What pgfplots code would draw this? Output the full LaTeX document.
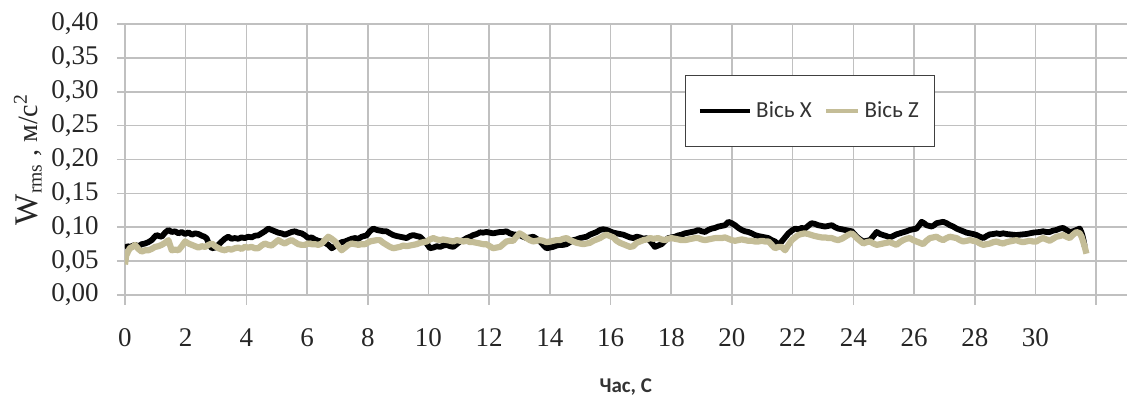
\documentclass[border=0pt]{standalone}
\usepackage{pgfplots}
\usepackage{pgfplotstable}
\pgfplotsset{compat=1.18}
\usepackage{fontspec}
\setmainfont{Liberation Serif}
\newfontfamily\carlito{Carlito}
\definecolor{tanline}{HTML}{C4BD97}
\definecolor{gridc}{HTML}{C0C0C0}

\pgfplotstableread{
t y
0 0.069
0.08 0.072
0.16 0.071
0.33 0.074
0.45 0.072
0.55 0.075
0.66 0.076
0.77 0.078
0.88 0.081
0.96 0.085
1.04 0.0885
1.12 0.087
1.21 0.086
1.32 0.092
1.43 0.096
1.54 0.093
1.65 0.094
1.76 0.091
1.87 0.093
1.98 0.090
2.09 0.0925
2.2 0.089
2.31 0.091
2.42 0.090
2.53 0.0875
2.62 0.086
2.69 0.0836
2.78 0.074
2.86 0.069
2.97 0.070
3.08 0.074
3.19 0.079
3.29 0.083
3.4 0.086
3.51 0.083
3.62 0.084
3.73 0.083
3.84 0.085
3.95 0.084
4.06 0.086
4.17 0.085
4.28 0.0875
4.39 0.088
4.5 0.091
4.61 0.094
4.72 0.098
4.83 0.096
4.94 0.094
5.05 0.092
5.16 0.091
5.27 0.089
5.38 0.091
5.49 0.093
5.6 0.094
5.71 0.092
5.82 0.091
5.93 0.088
6.04 0.084
6.15 0.085
6.26 0.082
6.37 0.080
6.48 0.079
6.59 0.077
6.7 0.074
6.81 0.069
6.92 0.072
7.03 0.075
7.14 0.078
7.25 0.079
7.36 0.081
7.47 0.083
7.58 0.084
7.69 0.083
7.8 0.086
7.96 0.088
8.07 0.094
8.18 0.098
8.3 0.096
8.4 0.095
8.52 0.094
8.62 0.094
8.73 0.091
8.84 0.0885
8.95 0.087
9.06 0.086
9.17 0.085
9.28 0.084
9.39 0.087
9.5 0.0885
9.61 0.087
9.72 0.086
9.83 0.081
9.94 0.076
10.05 0.069
10.16 0.070
10.27 0.072
10.38 0.071
10.49 0.073
10.6 0.074
10.71 0.072
10.82 0.071
10.93 0.075
11.04 0.079
11.15 0.081
11.26 0.084
11.37 0.086
11.48 0.0885
11.59 0.090
11.7 0.0925
11.8 0.092
11.91 0.093
12.02 0.092
12.13 0.091
12.24 0.092
12.36 0.093
12.46 0.093
12.57 0.094
12.68 0.091
12.79 0.0895
12.9 0.089
13.0 0.0885
13.12 0.086
13.23 0.084
13.34 0.085
13.45 0.086
13.56 0.083
13.67 0.079
13.78 0.074
13.89 0.069
14.0 0.070
14.11 0.071
14.22 0.073
14.33 0.074
14.44 0.074
14.55 0.075
14.66 0.078
14.77 0.081
14.88 0.082
14.99 0.084
15.1 0.085
15.21 0.086
15.32 0.089
15.43 0.091
15.54 0.093
15.65 0.096
15.76 0.097
15.87 0.096
15.98 0.094
16.09 0.092
16.2 0.091
16.31 0.090
16.42 0.089
16.53 0.087
16.64 0.085
16.75 0.084
16.86 0.086
16.97 0.085
17.08 0.083
17.19 0.084
17.3 0.080
17.41 0.074
17.46 0.071
17.57 0.073
17.68 0.075
17.79 0.080
17.9 0.084
18.01 0.085
18.12 0.086
18.23 0.088
18.34 0.089
18.45 0.091
18.56 0.092
18.67 0.093
18.78 0.094
18.89 0.096
19.0 0.094
19.11 0.093
19.22 0.096
19.33 0.098
19.44 0.099
19.55 0.101
19.66 0.102
19.77 0.103
19.88 0.108
19.99 0.106
20.1 0.103
20.21 0.099
20.32 0.096
20.43 0.094
20.54 0.093
20.65 0.091
20.76 0.0885
20.87 0.087
20.98 0.086
21.09 0.085
21.2 0.084
21.31 0.081
21.42 0.079
21.53 0.074
21.64 0.079
21.75 0.085
21.86 0.091
21.97 0.095
22.08 0.098
22.19 0.097
22.3 0.099
22.4 0.098
22.51 0.102
22.62 0.106
22.73 0.105
22.84 0.103
22.95 0.102
23.07 0.101
23.18 0.102
23.29 0.103
23.4 0.100
23.5 0.098
23.62 0.097
23.73 0.096
23.84 0.095
23.95 0.094
24.05 0.089
24.11 0.086
24.22 0.082
24.33 0.079
24.44 0.080
24.55 0.081
24.66 0.087
24.77 0.093
24.88 0.090
24.98 0.0885
25.09 0.087
25.2 0.085
25.31 0.087
25.42 0.0895
25.53 0.091
25.64 0.0925
25.75 0.094
25.86 0.096
25.97 0.097
26.08 0.098
26.17 0.103
26.25 0.108
26.33 0.106
26.41 0.103
26.5 0.102
26.58 0.101
26.66 0.103
26.74 0.106
26.85 0.107
26.96 0.108
27.07 0.106
27.18 0.103
27.29 0.101
27.4 0.098
27.51 0.096
27.62 0.094
27.73 0.092
27.84 0.091
27.95 0.090
28.06 0.0885
28.17 0.086
28.28 0.084
28.39 0.087
28.5 0.0895
28.61 0.090
28.72 0.091
28.83 0.090
28.94 0.091
29.05 0.090
29.15 0.0895
29.26 0.089
29.37 0.0885
29.48 0.089
29.59 0.0895
29.7 0.090
29.81 0.091
29.92 0.092
30.03 0.0925
30.14 0.093
30.25 0.094
30.36 0.093
30.47 0.093
30.58 0.095
30.69 0.096
30.8 0.098
30.91 0.099
31.02 0.096
31.13 0.093
31.24 0.094
31.35 0.096
31.46 0.098
31.52 0.092
31.57 0.084
31.62 0.072
}\seriesX

\pgfplotstableread{
t y
0 0.045
0.04 0.058
0.1 0.064
0.16 0.069
0.25 0.071
0.33 0.074
0.44 0.068
0.55 0.064
0.66 0.066
0.77 0.066
0.88 0.068
0.99 0.071
1.1 0.072
1.21 0.074
1.32 0.077
1.43 0.081
1.54 0.066
1.65 0.067
1.76 0.066
1.87 0.072
1.98 0.079
2.09 0.076
2.2 0.074
2.31 0.072
2.42 0.070
2.53 0.072
2.64 0.071
2.75 0.074
2.86 0.076
2.97 0.072
3.08 0.069
3.19 0.067
3.29 0.066
3.4 0.068
3.51 0.067
3.62 0.069
3.73 0.070
3.84 0.068
3.95 0.071
4.06 0.070
4.17 0.071
4.28 0.069
4.39 0.069
4.5 0.073
4.61 0.076
4.72 0.074
4.83 0.073
4.94 0.077
5.05 0.081
5.16 0.078
5.27 0.076
5.38 0.079
5.49 0.081
5.6 0.078
5.71 0.075
5.82 0.074
5.93 0.074
6.04 0.076
6.15 0.075
6.26 0.075
6.37 0.074
6.48 0.076
6.59 0.081
6.7 0.086
6.81 0.083
6.92 0.079
7.03 0.072
7.14 0.066
7.25 0.070
7.36 0.074
7.47 0.076
7.58 0.075
7.69 0.074
7.8 0.075
7.91 0.075
8.07 0.079
8.18 0.080
8.3 0.081
8.4 0.081
8.51 0.077
8.62 0.074
8.73 0.071
8.84 0.069
8.95 0.070
9.06 0.071
9.17 0.073
9.28 0.072
9.39 0.073
9.5 0.074
9.61 0.075
9.72 0.077
9.83 0.078
9.94 0.079
10.05 0.082
10.16 0.084
10.27 0.082
10.38 0.081
10.49 0.082
10.6 0.081
10.71 0.080
10.82 0.079
10.93 0.081
11.04 0.080
11.15 0.079
11.26 0.080
11.37 0.078
11.48 0.078
11.59 0.077
11.7 0.076
11.8 0.075
11.91 0.075
12.02 0.072
12.13 0.069
12.24 0.070
12.36 0.071
12.46 0.075
12.57 0.079
12.68 0.080
12.79 0.080
12.9 0.086
13.0 0.091
13.12 0.088
13.23 0.084
13.34 0.081
13.45 0.079
13.56 0.080
13.67 0.081
13.78 0.080
13.89 0.078
14.0 0.079
14.11 0.080
14.22 0.081
14.33 0.081
14.44 0.083
14.55 0.084
14.66 0.081
14.77 0.079
14.88 0.077
14.99 0.076
15.1 0.075
15.21 0.076
15.32 0.077
15.43 0.080
15.54 0.082
15.65 0.084
15.76 0.087
15.87 0.089
15.98 0.087
16.09 0.085
16.2 0.080
16.31 0.077
16.42 0.075
16.53 0.073
16.64 0.071
16.75 0.072
16.86 0.077
16.97 0.079
17.08 0.081
17.19 0.082
17.3 0.084
17.41 0.083
17.57 0.084
17.68 0.082
17.79 0.081
17.9 0.083
18.0 0.084
18.12 0.083
18.23 0.082
18.34 0.081
18.45 0.081
18.56 0.082
18.67 0.083
18.78 0.084
18.89 0.084
19.0 0.082
19.11 0.081
19.22 0.082
19.33 0.083
19.44 0.084
19.55 0.084
19.66 0.084
19.77 0.085
19.88 0.083
19.99 0.081
20.1 0.080
20.21 0.081
20.32 0.082
20.43 0.081
20.54 0.080
20.65 0.080
20.76 0.079
20.87 0.079
20.98 0.080
21.09 0.079
21.2 0.079
21.31 0.074
21.42 0.069
21.53 0.071
21.64 0.071
21.75 0.066
21.86 0.074
21.97 0.081
22.08 0.085
22.18 0.0885
22.29 0.090
22.4 0.091
22.51 0.090
22.62 0.0885
22.73 0.087
22.84 0.086
22.95 0.085
23.07 0.085
23.18 0.084
23.29 0.084
23.4 0.082
23.5 0.081
23.62 0.083
23.73 0.086
23.84 0.089
23.95 0.091
24.05 0.087
24.11 0.084
24.22 0.080
24.33 0.076
24.44 0.078
24.55 0.079
24.66 0.076
24.77 0.074
24.88 0.075
24.98 0.076
25.09 0.077
25.2 0.078
25.31 0.076
25.42 0.074
25.53 0.078
25.64 0.081
25.75 0.083
25.86 0.084
25.97 0.081
26.08 0.079
26.19 0.077
26.3 0.075
26.41 0.080
26.52 0.084
26.63 0.085
26.74 0.086
26.85 0.083
26.96 0.081
27.07 0.084
27.18 0.086
27.29 0.085
27.4 0.084
27.51 0.081
27.62 0.079
27.73 0.080
27.84 0.081
27.95 0.080
28.06 0.079
28.17 0.076
28.28 0.074
28.39 0.075
28.5 0.076
28.61 0.078
28.72 0.079
28.83 0.077
28.94 0.076
29.05 0.078
29.15 0.079
29.26 0.080
29.37 0.081
29.48 0.079
29.59 0.078
29.7 0.079
29.81 0.080
29.92 0.079
30.03 0.079
30.14 0.082
30.25 0.084
30.36 0.082
30.47 0.080
30.58 0.083
30.69 0.086
30.8 0.087
30.91 0.0885
31.02 0.086
31.13 0.084
31.24 0.089
31.35 0.093
31.46 0.091
31.52 0.086
31.57 0.079
31.63 0.070
31.68 0.061
}\seriesZ

\begin{document}
\begin{tikzpicture}
\pgfplotsset{
  common/.style={
    scale only axis, width=500.75pt, height=135.5pt,
    at={(0,0)}, anchor=south west,
    xmin=0, xmax=33, ymin=0, ymax=0.40,
    axis line style={draw=none},
  }
}
% tick marks only (x)
\begin{axis}[common,
  xtick={0,4,...,32}, ytick=\empty, xticklabels={},
  tick align=outside, xtick pos=bottom, major tick length=5pt,
  xtick style={draw=gridc, line width=0.8pt}]
\end{axis}
% tick marks only (y)
\begin{axis}[common,
  ytick={0,0.05,0.1,0.15,0.2,0.25,0.3,0.35,0.4}, xtick=\empty, yticklabels={},
  tick align=outside, ytick pos=left, major tick length=4pt,
  ytick style={draw=gridc, line width=0.8pt}]
\end{axis}
% main axis
\begin{axis}[common,
  major tick length=0pt,
  grid=major,
  major grid style={draw=gridc, line width=0.8pt},
  xtick={0,2,...,32},
  xticklabels={0,2,4,6,8,10,12,14,16,18,20,22,24,26,28,30,{}},
  ytick={0,0.05,0.1,0.15,0.2,0.25,0.3,0.35,0.4},
  /pgf/number format/assume math mode=true,
  yticklabel={\pgfmathprintnumber[fixed,fixed zerofill,precision=2,use comma]{\tick}},
  ticklabel style={font=\fontsize{13.5}{15}\selectfont, text=black!85},
  yticklabel style={anchor=east, inner sep=0pt, xshift=-13pt},
  xticklabel style={anchor=center, inner sep=0pt, yshift=-21.5pt},
  xlabel={Час, С},
  xlabel style={at={(axis description cs:0.5,-0.3395)}, anchor=center,
    font=\carlito\bfseries\fontsize{10.5}{12}\selectfont, text=black!80},
  ylabel={{\fontsize{16.5}{18}\selectfont W}\textsubscript{rms} , м/с\textsuperscript{2}},
  ylabel style={at={(axis description cs:-0.0969,0.5)}, anchor=center, rotate=0,
    font=\fontsize{14}{16}\selectfont, text=black!85},
  legend columns=2,
  legend style={at={(rel axis cs:0.559,0.812)}, anchor=north west,
    draw=black!75, line width=0.6pt, fill=white,
    inner xsep=6pt, inner ysep=11pt,
    font=\carlito\fontsize{11.5}{13}\selectfont, text=black!80,
    /tikz/every even column/.append style={column sep=4pt}},
  legend cell align=left,
]
\addplot[black, line width=2.9pt, line join=round, no marks,
  legend image code/.code={\draw[black, line width=2.4pt] (0pt,0pt) -- (25pt,0pt);}]
  table[x=t, y=y] {\seriesX};
\addlegendentry{Вісь X}
\addplot[tanline, line width=3.1pt, line join=round, no marks,
  legend image code/.code={\draw[tanline, line width=2.4pt] (0pt,0pt) -- (16pt,0pt);}]
  table[x=t, y=y] {\seriesZ};
\addlegendentry{Вісь Z}
\end{axis}
\pgfresetboundingbox
\path[use as bounding box] (-62.5pt,-52pt) rectangle (502pt,147.5pt);
\end{tikzpicture}
\end{document}
